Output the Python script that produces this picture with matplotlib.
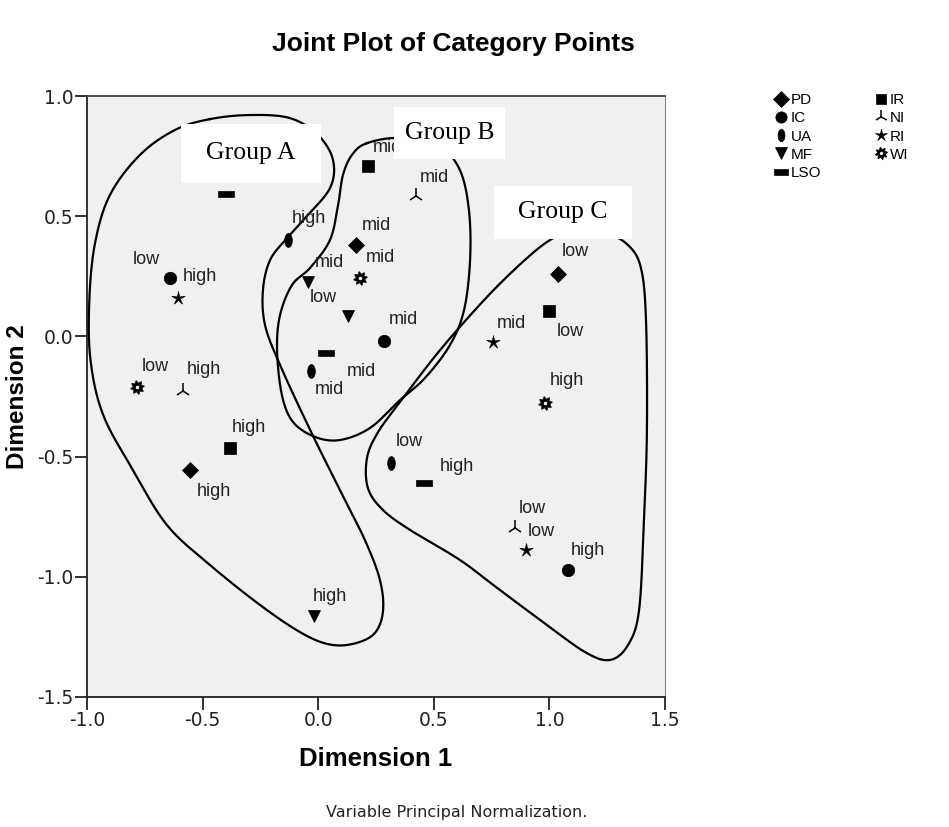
import numpy as np
import matplotlib
matplotlib.use("Agg")
import matplotlib.pyplot as plt
from matplotlib.path import Path
from matplotlib.lines import Line2D

# category points: variable, level, dim1, dim2
pt_var = ["PD", "PD", "PD", "IC", "IC", "IC", "UA", "UA", "UA",
          "MF", "MF", "MF", "LSO", "LSO", "LSO", "IR", "IR", "IR",
          "NI", "NI", "NI", "RI", "RI", "RI", "WI", "WI", "WI"]
pt_level = ["mid", "high", "low", "low", "mid", "high", "high", "mid", "low",
            "mid", "low", "high", "low", "mid", "high", "mid", "high", "low",
            "mid", "high", "low", "high", "mid", "low", "mid", "low", "high"]
pt_x = [0.163, -0.554, 1.037, -0.641, 0.285, 1.080, -0.131, -0.031, 0.315,
        -0.044, 0.129, -0.018, -0.399, 0.034, 0.458, 0.215, -0.381, 0.998,
        0.423, -0.585, 0.851, -0.606, 0.756, 0.899, 0.181, -0.784, 0.981]
pt_y = [0.380, -0.556, 0.260, 0.243, -0.019, -0.972, 0.401, -0.144, -0.527,
        0.226, 0.085, -1.163, 0.592, -0.069, -0.610, 0.709, -0.464, 0.106,
        0.584, -0.227, -0.797, 0.160, -0.023, -0.889, 0.243, -0.210, -0.277]
# label offsets in pixels (right, up)
lab_dx = [6, 7, 4, -37, 5, 3, 4, 4, 5, 7, -38, -1, 5, 21, 16, 5, 2, 8,
          4, 4, 4, 5, 4, 2, 6, 5, 5]
lab_dy = [20, -21, 22, 18, 21, 20, 22, -18, 22, 20, 18, 19, 20, -19, 17, 18, 20, -21,
          19, 21, 19, 21, 18, 19, 20, 20, 22]

legend_vars = ["PD", "IC", "UA", "MF", "LSO", "IR", "NI", "RI", "WI"]

# hand-drawn group outlines (data units)
group_a = [(-0.468, 0.904), (-0.295, 0.921), (-0.122, 0.908), (-0.001, 0.838),
           (0.064, 0.734), (0.051, 0.617), (-0.057, 0.492), (-0.135, 0.409),
           (-0.208, 0.318), (-0.239, 0.193), (-0.230, 0.047), (-0.165, -0.119),
           (-0.035, -0.389), (0.094, -0.639), (0.202, -0.847), (0.267, -1.013),
           (0.280, -1.146), (0.241, -1.238), (0.146, -1.280), (0.042, -1.280),
           (-0.079, -1.230), (-0.252, -1.117), (-0.468, -0.951), (-0.654, -0.785),
           (-0.801, -0.556), (-0.930, -0.327), (-0.985, -0.098), (-0.990, 0.151),
           (-0.965, 0.390), (-0.900, 0.590), (-0.771, 0.755), (-0.619, 0.859)]
group_b = [(0.211, 0.804), (0.354, 0.825), (0.527, 0.784), (0.613, 0.692),
           (0.652, 0.526), (0.657, 0.318), (0.631, 0.110), (0.570, -0.036),
           (0.462, -0.173), (0.354, -0.265), (0.224, -0.381), (0.094, -0.431),
           (-0.014, -0.418), (-0.109, -0.356), (-0.157, -0.244), (-0.178, -0.057),
           (-0.165, 0.089), (-0.113, 0.214), (-0.035, 0.285), (0.051, 0.401),
           (0.086, 0.547), (0.107, 0.671), (0.146, 0.755)]
group_c = [(1.089, 0.434), (1.240, 0.430), (1.340, 0.380), (1.396, 0.285),
           (1.418, 0.068), (1.422, -0.389), (1.409, -0.764), (1.388, -1.138),
           (1.340, -1.284), (1.262, -1.346), (1.154, -1.313), (0.972, -1.188),
           (0.786, -1.055), (0.613, -0.930), (0.397, -0.805), (0.280, -0.722),
           (0.215, -0.631), (0.211, -0.506), (0.259, -0.398), (0.354, -0.273),
           (0.527, -0.057), (0.730, 0.164), (0.894, 0.318), (1.003, 0.401)]

group_names = ["Group A", "Group B", "Group C"]
group_boxes = [(-0.593, 0.638, 0.012, 0.884),
               (0.328, 0.738, 0.808, 0.954),
               (0.760, 0.405, 1.357, 0.626)]


def closed_spline(pts, n=30):
    p = np.array(pts)
    m = len(p)
    out = []
    for i in range(m):
        p0, p1, p2, p3 = p[i - 1], p[i], p[(i + 1) % m], p[(i + 2) % m]
        t = np.linspace(0, 1, n, endpoint=False)[:, None]
        seg = 0.5 * ((2 * p1) + (-p0 + p2) * t + (2 * p0 - 5 * p1 + 4 * p2 - p3) * t ** 2
                     + (-p0 + 3 * p1 - 3 * p2 + p3) * t ** 3)
        out.append(seg)
    out = np.vstack(out)
    return np.vstack([out, out[:1]])


def ellipse_path(sx, sy):
    c = Path.unit_circle()
    return Path(c.vertices * [sx, sy], c.codes)


def rect_path(w, h):
    return Path([(-w, -h), (w, -h), (w, h), (-w, h), (-w, -h)],
                [Path.MOVETO, Path.LINETO, Path.LINETO, Path.LINETO, Path.CLOSEPOLY])


def star_path(k, r_in, rot=np.pi / 2):
    ang = np.linspace(0, 2 * np.pi, 2 * k + 1)[:-1] + rot
    r = np.where(np.arange(2 * k) % 2 == 0, 1.0, r_in)
    pts = np.column_stack([r * np.cos(ang), r * np.sin(ang)])
    pts = np.vstack([pts, pts[:1]])
    codes = [Path.MOVETO] + [Path.LINETO] * (2 * k - 1) + [Path.CLOSEPOLY]
    return Path(pts, codes)


def sun_path():
    outer = star_path(8, 0.62, rot=np.pi / 16)
    c = Path.unit_circle()
    inner = Path(c.vertices[::-1] * 0.3, c.codes)
    return Path.make_compound_path(outer, inner)


markers = {
    "PD": dict(marker="D", ms=8.5),
    "IC": dict(marker="o", ms=9),
    "UA": dict(marker=ellipse_path(0.55, 1.0), ms=10),
    "MF": dict(marker="v", ms=9),
    "LSO": dict(marker=rect_path(1.0, 0.45), ms=11),
    "IR": dict(marker="s", ms=8),
    "NI": dict(marker="2", ms=11, mew=1.1),
    "RI": dict(marker=star_path(5, 0.28), ms=10),
    "WI": dict(marker=sun_path(), ms=10),
}

fig = plt.figure(figsize=(9.49, 8.27), dpi=100)
ax = fig.add_axes([0.0917, 0.1572, 0.609, 0.7267])
ax.set_facecolor("#f0f0f0")
ax.set_xlim(-1.0, 1.5)
ax.set_ylim(-1.5, 1.0)
ax.set_xticks([-1.0, -0.5, 0.0, 0.5, 1.0, 1.5])
ax.set_yticks([-1.5, -1.0, -0.5, 0.0, 0.5, 1.0])
ax.xaxis.set_major_formatter(matplotlib.ticker.FormatStrFormatter("%.1f"))
ax.yaxis.set_major_formatter(matplotlib.ticker.FormatStrFormatter("%.1f"))
ax.tick_params(direction="out", length=9, width=1.3, labelsize=13.5, pad=1,
               colors="#222222")
for s in ["left", "bottom", "top"]:
    ax.spines[s].set_linewidth(1.3)
    ax.spines[s].set_color("#222222")
ax.spines["right"].set_color("#888888")
ax.spines["top"].set_color("#444444")

for outline in [group_a, group_b, group_c]:
    sp = closed_spline(outline)
    ax.plot(sp[:, 0], sp[:, 1], color="black", lw=1.6, zorder=3, clip_on=False)

for v, lvl, x, y, dx, dy in zip(pt_var, pt_level, pt_x, pt_y, lab_dx, lab_dy):
    st = markers[v]
    ax.plot([x], [y], linestyle="none", color="black", mec="black",
            marker=st["marker"], ms=st["ms"], mew=st.get("mew", 0.5), zorder=4)
    ax.annotate(lvl, (x, y), xytext=(dx, dy), textcoords="offset pixels",
                ha="left", va="center", fontsize=13, color="#222222",
                family="Liberation Sans", zorder=4)

for name, (x0, y0, x1, y1) in zip(group_names, group_boxes):
    ax.add_patch(plt.Rectangle((x0, y0), x1 - x0, y1 - y0, facecolor="white",
                               edgecolor="none", zorder=6, clip_on=False))
    ax.text((x0 + x1) / 2, (y0 + y1) / 2, name, ha="center", va="center",
            fontsize=18.5, family="Liberation Serif", zorder=7)

handles = []
for v in legend_vars:
    st = markers[v]
    handles.append(Line2D([], [], linestyle="none", color="black", mec="black",
                          marker=st["marker"], ms=st["ms"] * 0.9,
                          mew=st.get("mew", 0.5)))
fig.legend(handles, legend_vars, loc="upper left", bbox_to_anchor=(0.812, 0.895),
           ncol=2, frameon=False, handlelength=0.6, handletextpad=0.3,
           labelspacing=0.28, columnspacing=3.6, borderaxespad=0,
           prop={"family": "Liberation Sans", "size": 11})

fig.text(0.478, 0.947, "Joint Plot of Category Points", ha="center", va="center",
         fontsize=19, fontweight="bold", family="Liberation Sans")
ax.set_xlabel("Dimension 1", fontsize=18.5, fontweight="bold",
              family="Liberation Sans", labelpad=12)
fig.text(0.018, 0.5205, "Dimension 2", rotation=90, ha="center", va="center",
         fontsize=17.5, fontweight="bold", family="Liberation Sans")
fig.text(0.4815, 0.018, "Variable Principal Normalization.", ha="center",
         va="center", fontsize=11.5, family="DejaVu Sans", color="#222222")

fig.savefig("out.png", dpi=100)
